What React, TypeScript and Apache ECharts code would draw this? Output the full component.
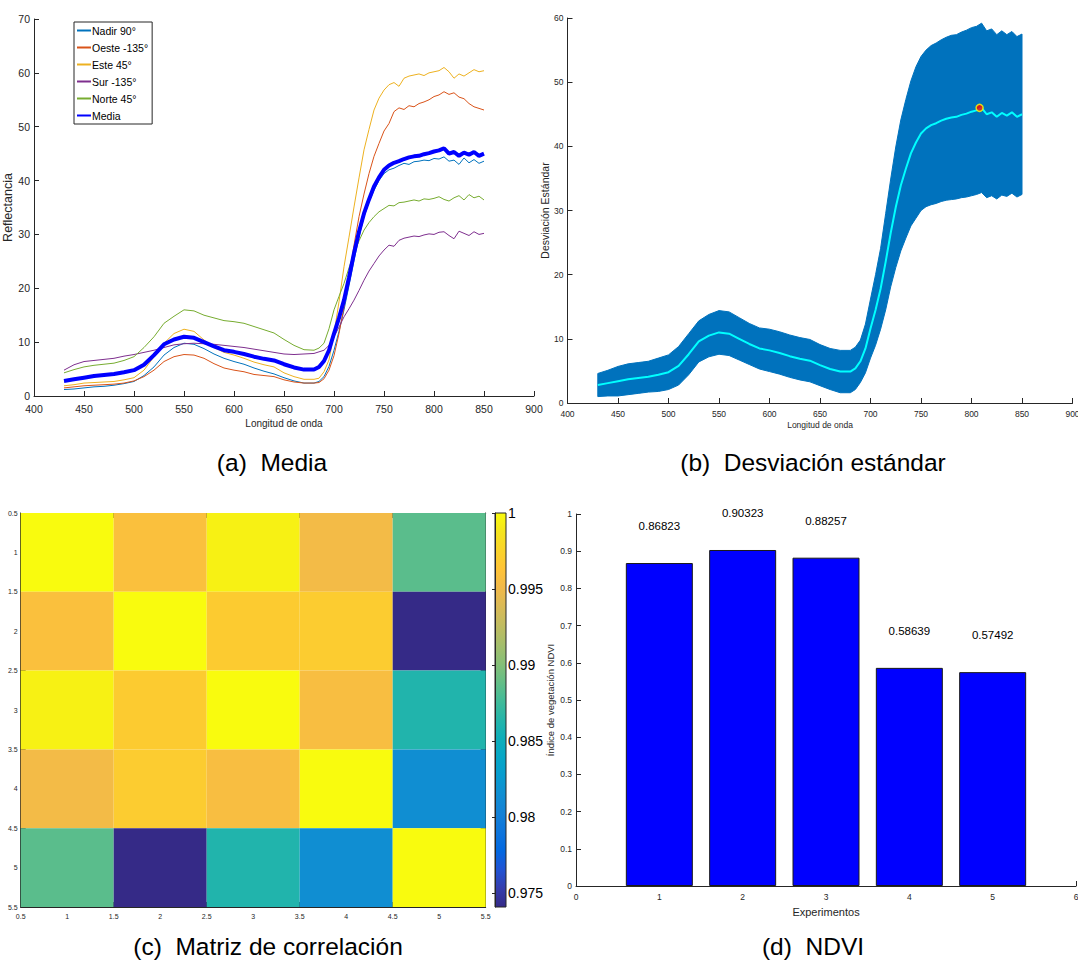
import React, { useEffect, useRef } from 'react';
import * as echarts from 'echarts';

const SANS = "'Liberation Sans',Arial,Helvetica,sans-serif";
const AX = '#262626';

// ---------- (a) / (b) spectral data ----------
const wl = [
  430, 440, 450, 460, 470, 480, 490, 500, 510, 520, 530, 540, 550, 560, 570, 580, 590, 600, 610, 620, 630, 640, 650, 660, 670, 680,
  685, 690, 695, 700, 705, 710, 715, 720, 725, 730, 735, 740, 745, 750, 755, 760, 765, 770, 775, 780, 785, 790, 795, 800, 805, 810,
  815, 820, 825, 830, 835, 840, 845, 850,
];
const nadir = [
  1.2, 1.3, 1.5, 1.7, 1.8, 2.0, 2.3, 2.7, 3.8, 5.4, 7.6, 9.0, 9.8, 9.6, 8.8, 7.8, 7.0, 6.4, 5.9, 5.2, 4.6, 4.1, 3.4, 2.8, 2.4, 2.4,
  2.7, 3.6, 5.5, 8.5, 12.0, 16.0, 20.5, 25.2, 29.5, 33.3, 36.0, 38.2, 40.0, 41.3, 42.0, 42.3, 42.8, 43.2, 43.0, 43.5,
  43.6, 43.8, 43.7, 44.1, 44.0, 44.4, 43.6, 43.8, 43.0, 44.2, 43.3, 43.9, 43.2, 43.6,
];
const oeste = [
  1.5, 1.7, 1.9, 2.0, 2.1, 2.2, 2.4, 2.8, 3.6, 4.8, 6.4, 7.3, 7.7, 7.6, 7.0, 6.0, 5.2, 4.8, 4.5, 4.0, 3.8, 3.6, 3.0, 2.6, 2.4, 2.4,
  2.5, 3.2, 4.8, 7.5, 11.6, 16.5, 22.2, 28.0, 33.3, 37.5, 41.3, 44.5, 46.9, 49.2, 50.6, 52.8, 53.5, 53.2, 53.9, 53.7,
  54.3, 54.6, 55.0, 55.6, 55.9, 56.5, 56.0, 56.3, 55.5, 55.2, 54.3, 53.7, 53.4, 53.1,
];
const este = [
  1.9, 2.1, 2.4, 2.5, 2.6, 2.7, 3.0, 3.4, 4.8, 7.3, 9.8, 11.6, 12.4, 12.0, 10.4, 9.0, 8.1, 7.6, 7.0, 6.3, 5.8, 5.4, 4.3, 3.6, 3.1, 3.1,
  3.3, 4.5, 6.7, 11.6, 17.5, 24.0, 29.5, 35.1, 40.5, 45.7, 49.5, 53.1, 55.3, 56.8, 57.8, 58.2, 57.5, 59.0, 59.4, 59.6,
  59.8, 59.5, 60.0, 60.2, 60.4, 61.0, 60.2, 59.0, 59.8, 59.4, 60.0, 60.6, 60.2, 60.4,
];
const sur = [
  4.8, 5.8, 6.4, 6.6, 6.8, 7.0, 7.4, 7.7, 8.1, 8.5, 9.0, 9.5, 9.7, 9.8, 9.7, 9.6, 9.4, 9.2, 9.0, 8.7, 8.4, 8.1, 7.8, 7.7, 7.8, 7.9,
  8.2, 8.5, 9.4, 11.0, 12.8, 14.7, 16.2, 17.8, 19.6, 21.5, 23.2, 24.6, 26.0, 27.1, 28.0, 27.8, 28.9, 29.3, 29.5, 29.7,
  29.6, 29.9, 30.1, 30.0, 30.4, 30.5, 29.8, 29.2, 30.6, 30.2, 29.8, 30.5, 30.0, 30.2,
];
const norte = [
  4.3, 4.9, 5.4, 5.7, 5.9, 6.1, 6.6, 7.3, 9.0, 11.0, 13.5, 14.8, 16.0, 15.8, 15.0, 14.5, 14.0, 13.8, 13.5, 12.9, 12.3, 11.7, 10.5, 9.4, 8.6, 8.5,
  8.9, 9.8, 12.5, 16.0, 18.5, 20.9, 23.8, 26.5, 28.8, 30.8, 32.2, 33.3, 34.2, 34.8, 35.4, 35.3, 35.9, 36.0, 36.2, 36.4,
  36.2, 36.6, 36.5, 36.7, 37.0, 36.5, 36.2, 36.8, 37.2, 36.4, 37.4, 36.8, 37.1, 36.4,
];
const media = [
  2.8, 3.1, 3.4, 3.7, 3.9, 4.1, 4.4, 4.8, 5.8, 7.6, 9.6, 10.5, 11.0, 10.8, 10.0, 9.2, 8.5, 8.2, 7.8, 7.3, 6.9, 6.6, 5.9, 5.3, 4.9, 4.9,
  5.4, 6.5, 8.5, 11.6, 14.5, 17.8, 22.0, 26.5, 30.5, 33.9, 36.5, 38.9, 40.6, 42.0, 42.8, 43.3, 43.6, 44.0, 44.3, 44.5,
  44.6, 44.9, 45.1, 45.4, 45.6, 46.0, 45.0, 45.3, 44.6, 45.2, 44.8, 45.3, 44.6, 45.0,
];
const desv = [
  1.8, 2.0, 2.3, 2.4, 2.4, 2.4, 2.6, 2.7, 3.0, 3.2, 3.2, 3.3, 3.4, 3.4, 3.3, 3.2, 3.2, 3.3, 3.3, 3.3, 3.3, 3.3, 3.2, 3.2, 3.3, 3.3,
  3.3, 3.3, 3.8, 4.6, 5.5, 6.3, 7.5, 8.4, 9.4, 10.2, 10.8, 11.3, 11.8, 12.0, 12.2, 12.4, 12.5, 12.6, 12.7, 12.8,
  12.8, 12.9, 13.0, 13.1, 13.1, 13.2, 13.0, 13.0, 12.8, 12.8, 12.6, 12.6, 12.5, 12.5,
];
const picoMax = [808, 46];

const seriesA = [
  { name: 'Nadir 90°', values: nadir, color: '#0072BD', width: 1 },
  { name: 'Oeste -135°', values: oeste, color: '#D95319', width: 1 },
  { name: 'Este 45°', values: este, color: '#EDB120', width: 1 },
  { name: 'Sur -135°', values: sur, color: '#7E2F8E', width: 1 },
  { name: 'Norte 45°', values: norte, color: '#77AC30', width: 1 },
  { name: 'Media', values: media, color: '#0000FF', width: 4 },
];

// ---------- (c) correlation matrix ----------
const corrLabels = [1, 2, 3, 4, 5];
const corr = [
  [1.0, 0.99588, 0.99948, 0.99526, 0.9885],
  [0.99588, 1.0, 0.99692, 0.997, 0.9741],
  [0.99948, 0.99692, 1.0, 0.99568, 0.98622],
  [0.99526, 0.997, 0.99568, 1.0, 0.9815],
  [0.9885, 0.9741, 0.98622, 0.9815, 1.0],
];
const corrMin = 0.9741;
const corrMax = 1;
const colorbarTicks = [0.975, 0.98, 0.985, 0.99, 0.995, 1];
const parula = [
  '#352A87', '#353DAD', '#2053D4', '#0268E1', '#0D75DC', '#1481D6', '#108ED2', '#079CCF', '#06A7C6', '#0FAEB9', '#25B5A9',
  '#42BB98', '#65BE86', '#87BF77', '#A5BE6B', '#C0BC60', '#D9BA56', '#F1B94A', '#FFC337', '#FAD32A', '#F5E41D', '#F9FB0E',
];

// ---------- (d) NDVI ----------
const experimentos = [1, 2, 3, 4, 5];
const ndvi = [0.86823, 0.90323, 0.88257, 0.58639, 0.57492];

const captions = [
  { text: '(a)  Media', x: 272, y: 462 },
  { text: '(b)  Desviación estándar', x: 813, y: 462 },
  { text: '(c)  Matriz de correlación', x: 268, y: 946 },
  { text: '(d)  NDVI', x: 813, y: 946 },
];

function axis(gridIndex: number, min: number, max: number, interval: number, fontSize: number, extra: any = {}) {
  return {
    gridIndex,
    type: 'value',
    min,
    max,
    interval,
    axisLine: { show: true, onZero: false, lineStyle: { color: AX, width: 1 } },
    axisTick: { show: true, inside: true, length: 5, lineStyle: { color: AX } },
    axisLabel: { fontFamily: SANS, fontSize, color: AX, margin: 4 },
    splitLine: { show: false },
    nameTextStyle: { fontFamily: SANS, color: AX },
    ...extra,
  };
}

function buildOption() {
  const heatData: any[] = [];
  corr.forEach((row, i) => row.forEach((v, j) => heatData.push([corrLabels[j], corrLabels[i], v])));

  const rev = parula.slice().reverse();
  const gradStops = rev.map((c, i) => ({ offset: i / (rev.length - 1), color: c }));

  const bandRows = wl.map((x, i) => [x, media[i] - desv[i], media[i] + desv[i]]);

  return {
    animation: false,
    backgroundColor: '#fff',
    grid: [
      { left: 34, top: 19, width: 500, height: 377, outerBoundsMode: 'none' },
      { left: 567.5, top: 18, width: 505, height: 385, outerBoundsMode: 'none' },
      { left: 20.7, top: 513, width: 465, height: 394, outerBoundsMode: 'none' },
      { left: 495, top: 513, width: 11, height: 394, outerBoundsMode: 'none' },
      { left: 576, top: 514, width: 500, height: 372, outerBoundsMode: 'none' },
    ],
    xAxis: [
      axis(0, 400, 900, 50, 10.5, {
        axisLabel: { fontFamily: SANS, fontSize: 10.5, color: AX, margin: 7 },
        name: 'Longitud de onda', nameLocation: 'middle', nameGap: 22,
        nameTextStyle: { fontFamily: SANS, fontSize: 10, color: AX },
      }),
      axis(1, 400, 900, 50, 8.5, {
        axisLabel: { fontFamily: SANS, fontSize: 8.5, color: AX, margin: 6 },
        name: 'Longitud de onda', nameLocation: 'middle', nameGap: 17,
        nameTextStyle: { fontFamily: SANS, fontSize: 8.5, color: AX },
      }),
      axis(2, 0.5, 5.5, 0.5, 7, { axisLabel: { fontFamily: SANS, fontSize: 7, color: AX, margin: 6 } }),
      axis(2, 0.5, 5.5, 0.5, 7, { position: 'top', axisLabel: { show: false } }),
      { gridIndex: 3, type: 'value', min: 0, max: 1, show: false },
      axis(4, 0, 6, 1, 8.5, {
        axisLabel: { fontFamily: SANS, fontSize: 8.5, color: AX, margin: 6 },
        name: 'Experimentos', nameLocation: 'middle', nameGap: 20,
        nameTextStyle: { fontFamily: SANS, fontSize: 11, color: AX },
      }),
    ],
    yAxis: [
      axis(0, 0, 70, 10, 10.5, {
        name: 'Reflectancia', nameLocation: 'middle', nameGap: 15, nameRotate: 90,
        nameTextStyle: { fontFamily: SANS, fontSize: 12.5, color: AX },
      }),
      axis(1, 0, 60, 10, 8.5, {
        name: 'Desviación Estándar', nameLocation: 'middle', nameGap: 11, nameRotate: 90,
        nameTextStyle: { fontFamily: SANS, fontSize: 10.5, color: AX },
      }),
      axis(2, 0.5, 5.5, 0.5, 7, { inverse: true, axisLabel: { fontFamily: SANS, fontSize: 7, color: AX, margin: 3 } }),
      axis(2, 0.5, 5.5, 0.5, 7, { inverse: true, position: 'right', axisLabel: { show: false } }),
      {
        gridIndex: 3, type: 'value', min: corrMin, max: corrMax, position: 'right',
        axisLine: { show: true, lineStyle: { color: AX } },
        axisTick: { show: true, inside: true, length: 3, customValues: colorbarTicks, lineStyle: { color: AX } },
        axisLabel: {
          show: true, customValues: colorbarTicks, fontFamily: SANS, fontSize: 14, color: '#000', margin: 2,
          formatter: (v: number) => (v === 1 ? '1' : String(v)),
        },
        splitLine: { show: false },
        z: 6,
      },
      axis(4, 0, 1, 0.1, 8.5, {
        name: 'Índice de vegetación NDVI', nameLocation: 'middle', nameGap: 21, nameRotate: 90,
        nameTextStyle: { fontFamily: SANS, fontSize: 9.5, color: AX },
      }),
    ],
    legend: {
      data: seriesA.map((s) => s.name),
      orient: 'vertical',
      left: 74,
      top: 22,
      itemWidth: 14,
      itemHeight: 10,
      itemGap: 6,
      padding: [3, 4, 3, 2],
      borderColor: AX,
      borderWidth: 1,
      backgroundColor: '#fff',
      itemStyle: { opacity: 0 },
      textStyle: { fontFamily: SANS, fontSize: 10.5, color: '#000', padding: [0, 0, 0, -4] },
    },
    visualMap: {
      show: false,
      type: 'continuous',
      min: corrMin,
      max: corrMax,
      dimension: 2,
      seriesIndex: 9,
      inRange: { color: parula },
    },
    series: [
      ...seriesA.map((s) => ({
        name: s.name,
        type: 'line',
        xAxisIndex: 0,
        yAxisIndex: 0,
        symbol: 'none',
        lineStyle: { color: s.color, width: s.width },
        itemStyle: { color: s.color },
        data: wl.map((x, i) => [x, s.values[i]]),
      })),
      {
        name: 'banda',
        type: 'custom',
        xAxisIndex: 1,
        yAxisIndex: 1,
        silent: true,
        encode: { x: 0, y: [1, 2] },
        renderItem: (params: any, api: any) => {
          if (params.dataIndex !== 0) return null;
          const pts: number[][] = [];
          bandRows.forEach((r) => pts.push(api.coord([r[0], r[2]])));
          for (let i = bandRows.length - 1; i >= 0; i--) pts.push(api.coord([bandRows[i][0], bandRows[i][1]]));
          return {
            type: 'polygon',
            shape: { points: pts },
            style: { fill: '#0072BD', stroke: '#0072BD', lineWidth: 1 },
          };
        },
        data: bandRows,
      },
      {
        name: 'media-b',
        type: 'line',
        xAxisIndex: 1,
        yAxisIndex: 1,
        symbol: 'none',
        lineStyle: { color: '#00FFFF', width: 2 },
        data: wl.map((x, i) => [x, media[i]]),
        z: 3,
      },
      {
        name: 'pico',
        type: 'scatter',
        xAxisIndex: 1,
        yAxisIndex: 1,
        symbolSize: 7,
        itemStyle: { color: '#FF0000', borderColor: '#FFFF00', borderWidth: 1.5 },
        data: [picoMax],
        z: 4,
      },
      {
        name: 'correlacion',
        type: 'custom',
        xAxisIndex: 2,
        yAxisIndex: 2,
        encode: { x: 0, y: 1 },
        renderItem: (params: any, api: any) => {
          const x = api.value(0);
          const y = api.value(1);
          const p1 = api.coord([x - 0.5, y - 0.5]);
          const p2 = api.coord([x + 0.5, y + 0.5]);
          return {
            type: 'rect',
            shape: {
              x: Math.min(p1[0], p2[0]),
              y: Math.min(p1[1], p2[1]),
              width: Math.abs(p2[0] - p1[0]),
              height: Math.abs(p2[1] - p1[1]),
            },
            style: { fill: api.visual('color') },
          };
        },
        data: heatData,
        z: 1,
      },
      {
        name: 'NDVI',
        type: 'bar',
        xAxisIndex: 5,
        yAxisIndex: 5,
        barWidth: 67,
        itemStyle: { color: '#0000FF', borderColor: '#1a1a1a', borderWidth: 1 },
        label: {
          show: true,
          position: 'top',
          distance: 31,
          fontFamily: SANS,
          fontSize: 11.5,
          color: '#000',
          formatter: (p: any) => String(p.value[1]),
        },
        data: experimentos.map((e, i) => [e, ndvi[i]]),
      },
    ],
    graphic: [
      {
        type: 'rect',
        shape: { x: 495, y: 513, width: 11, height: 394 },
        style: {
          fill: new echarts.graphic.LinearGradient(0, 0, 0, 1, gradStops),
          stroke: AX,
          lineWidth: 1,
        },
        z: 5,
      },
      ...captions.map((c) => ({
        type: 'text',
        x: c.x,
        y: c.y,
        style: {
          text: c.text,
          font: `24.5px ${SANS}`,
          fill: '#000',
          textAlign: 'center',
          textVerticalAlign: 'middle',
        },
      })),
    ],
  };
}

export default function App() {
  const ref = useRef<HTMLDivElement>(null);
  useEffect(() => {
    const chart = echarts.init(ref.current as HTMLDivElement, null, { renderer: 'svg' });
    chart.setOption(buildOption() as any);
    return () => chart.dispose();
  }, []);
  return (
    <div
      ref={ref}
      style={{ position: 'fixed', left: 0, top: 0, width: 1078, height: 963, background: '#fff' }}
    />
  );
}
